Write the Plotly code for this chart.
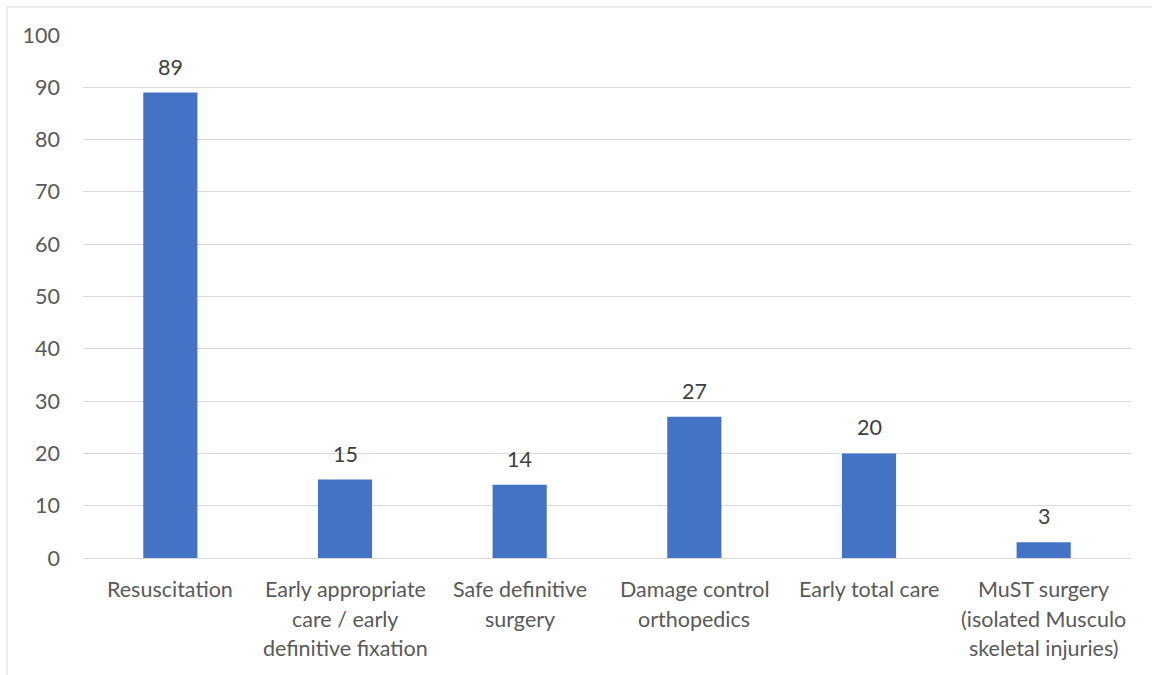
import plotly.graph_objects as go

categories = [
    "Resuscitation",
    "Early appropriate<br>care / early<br>definitive fixation",
    "Safe definitive<br>surgery",
    "Damage control<br>orthopedics",
    "Early total care",
    "MuST surgery<br>(isolated Musculo<br>skeletal injuries)",
]
values = [89, 15, 14, 27, 20, 3]
y_ticks = [0, 10, 20, 30, 40, 50, 60, 70, 80, 90, 100]

FONT = "Lato"
SIZE = 21.5
TEXT = "#595959"

fig = go.Figure()
fig.add_trace(go.Bar(
    x=list(range(len(categories))),
    y=values,
    marker=dict(color="#4472C4", line=dict(width=0)),
    width=0.31,
    hoverinfo="skip",
))

annotations = []
# value labels above bars
for i, v in enumerate(values):
    annotations.append(dict(
        x=i, y=v, xref="x", yref="y", text=str(v), showarrow=False,
        yanchor="bottom", yshift=11,
        font=dict(family=FONT, size=SIZE, color="#404040"),
    ))
# category labels below the axis, one annotation per line
for i, c in enumerate(categories):
    for j, line in enumerate(c.split("<br>")):
        annotations.append(dict(
            x=i, y=0, xref="x", yref="y", text=line, showarrow=False,
            yanchor="middle", yshift=-31 - 29.5 * j,
            font=dict(family=FONT, size=SIZE, color=TEXT),
        ))

fig.update_layout(
    width=1152, height=675,
    margin=dict(l=83, r=21, t=35, b=117),
    paper_bgcolor="white", plot_bgcolor="white",
    showlegend=False,
    annotations=annotations,
    xaxis=dict(range=[-0.5, len(categories) - 0.5], showticklabels=False,
               showgrid=False, zeroline=False, showline=False, ticks=""),
    yaxis=dict(range=[0, 100], tickvals=y_ticks, showgrid=True,
               gridcolor="#d9d9d9", gridwidth=1, zeroline=True,
               zerolinecolor="#d9d9d9", zerolinewidth=1, showline=False,
               ticks="", ticklabelstandoff=22,
               tickfont=dict(family=FONT, size=SIZE, color=TEXT)),
    shapes=[dict(type="rect", xref="paper", yref="paper",
                 x0=-0.0725, x1=1.03, y0=-0.25, y1=1.0535,
                 line=dict(color="#d9d9d9", width=1), layer="below")],
)

fig.write_html("out.html")
